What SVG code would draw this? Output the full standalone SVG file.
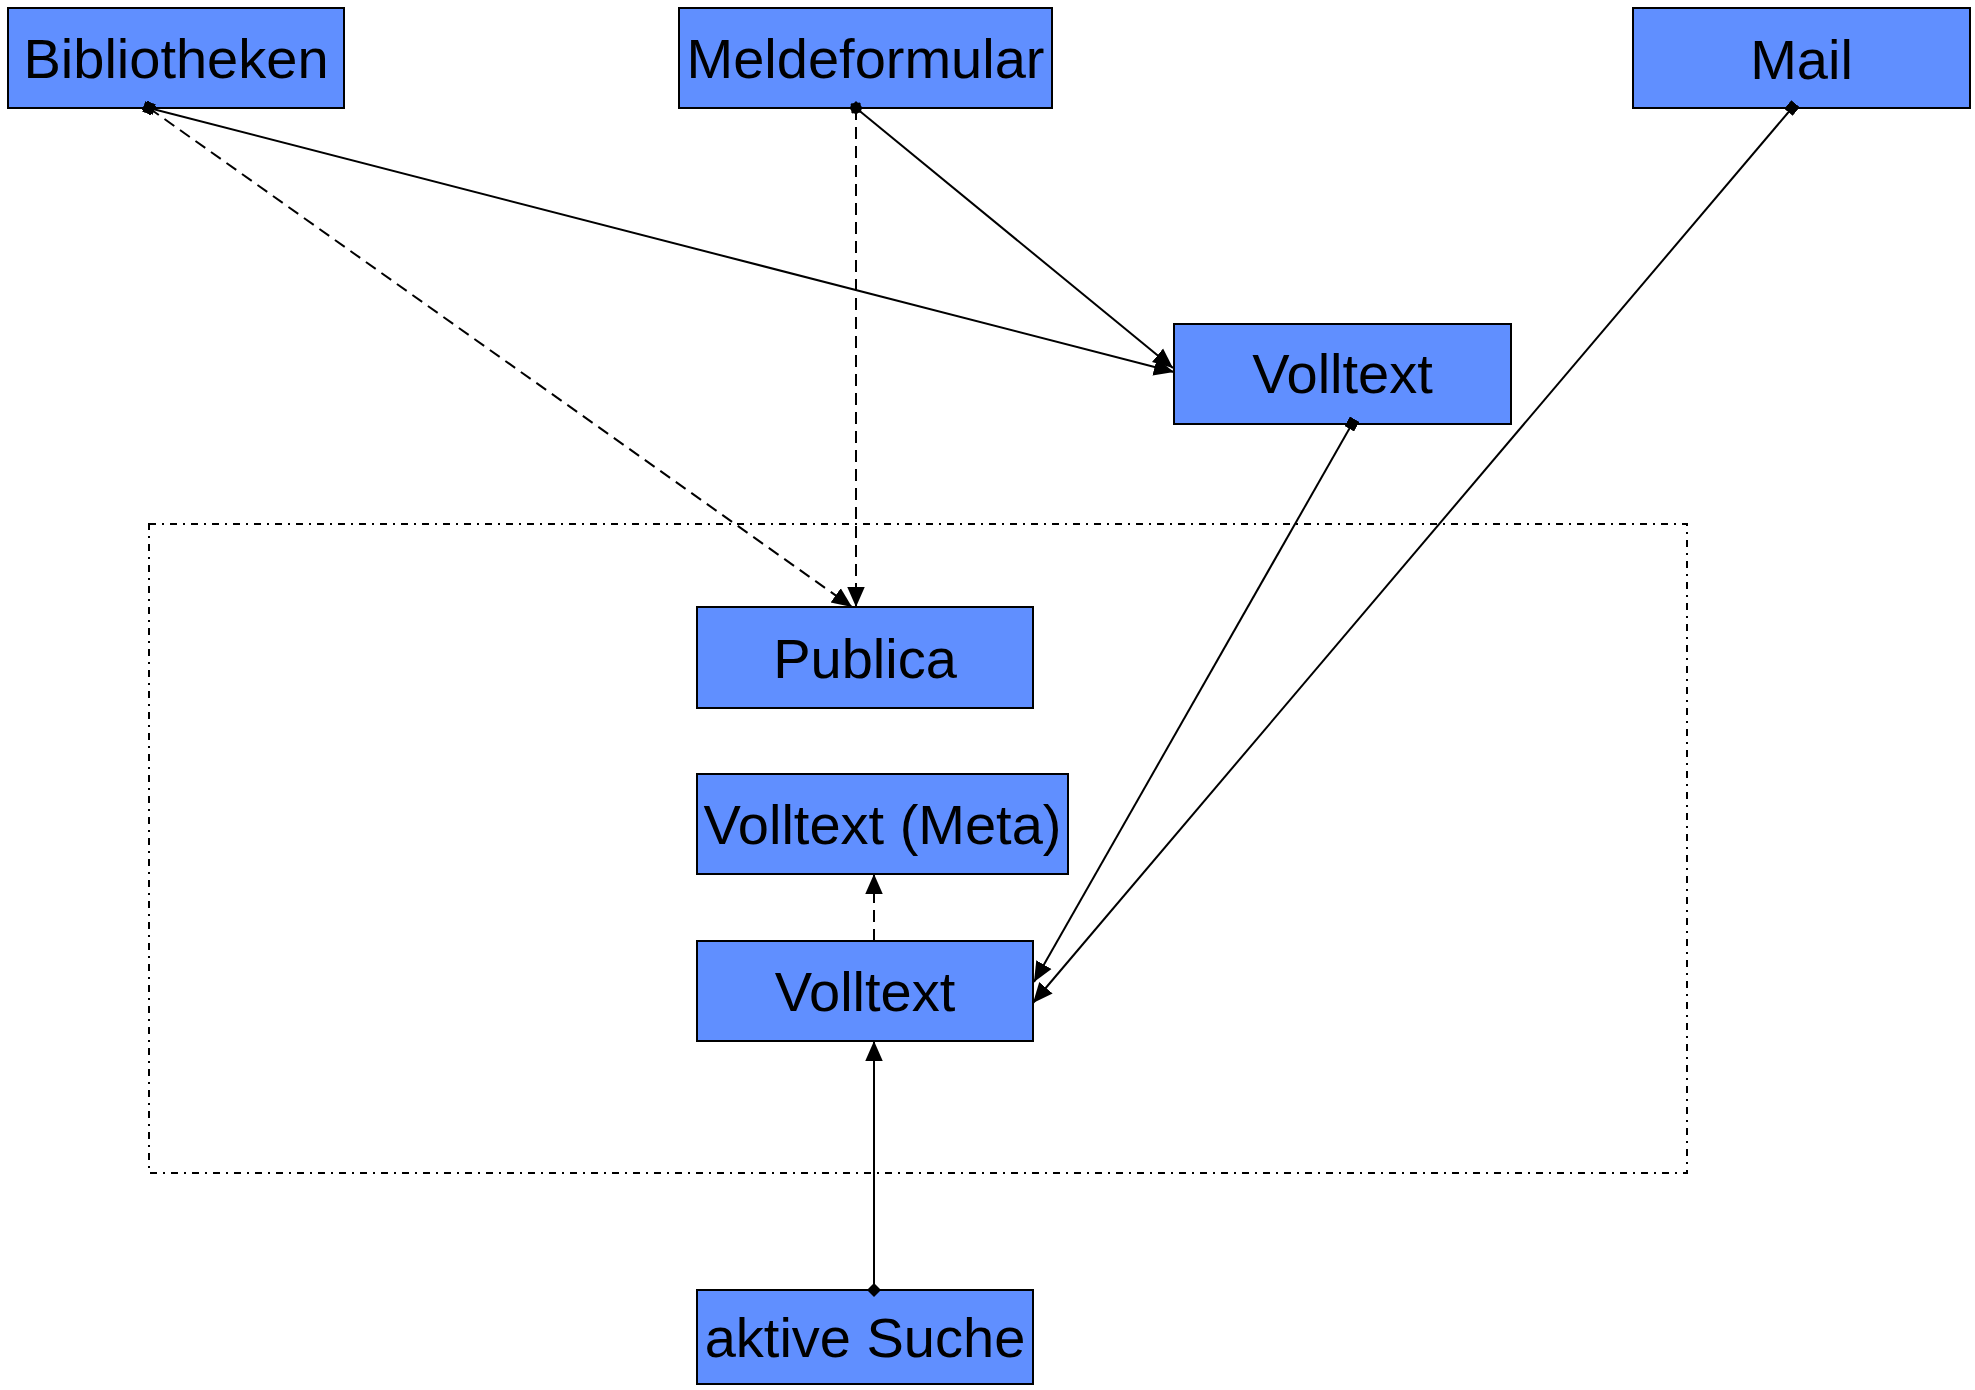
<svg xmlns="http://www.w3.org/2000/svg" width="1975" height="1390" viewBox="0 0 1975 1390">
<style>
.box{fill:#608FFF;stroke:#000;stroke-width:2}
.lbl{font-family:"Liberation Sans",Arial,sans-serif;font-size:56px;fill:#000;text-anchor:middle}
.c{fill:none;stroke:#000;stroke-width:2}
.dash{stroke-dasharray:12 7}
.frame{fill:none;stroke:#000;stroke-width:2;stroke-dasharray:7 6 2 6}
</style>
<defs>
<marker id="arrow" markerUnits="userSpaceOnUse" markerWidth="20" markerHeight="20" viewBox="0 0 16 14" refX="16" refY="7" orient="auto">
<path d="M0,0 L16,7 L0,14 Z" fill="#000"/>
</marker>
<marker id="sq" markerUnits="userSpaceOnUse" markerWidth="11" markerHeight="11" viewBox="0 0 10 10" refX="5" refY="5" orient="auto">
<rect x="0" y="0" width="10" height="10" fill="#000"/>
</marker>
<marker id="dia" markerUnits="userSpaceOnUse" markerWidth="14" markerHeight="14" viewBox="0 0 12 12" refX="6" refY="6" orient="auto">
<path d="M0,6 L6,0 L12,6 L6,12 Z" fill="#000"/>
</marker>
</defs>
<rect class="frame" x="149" y="524" width="1538" height="649"/>
<g id="n-bibliotheken"><rect class="box" x="8" y="8" width="336" height="100"/><text class="lbl" x="176" y="78">Bibliotheken</text></g>
<g id="n-meldeformular"><rect class="box" x="679" y="8" width="373" height="100"/><text class="lbl" x="865.5" y="78">Meldeformular</text></g>
<g id="n-mail"><rect class="box" x="1633" y="8" width="337" height="100"/><text class="lbl" x="1801.5" y="79">Mail</text></g>
<g id="n-volltext-top"><rect class="box" x="1174" y="324" width="337" height="100"/><text class="lbl" x="1342.5" y="393">Volltext</text></g>
<g id="n-publica"><rect class="box" x="697" y="607" width="336" height="101"/><text class="lbl" x="865" y="678">Publica</text></g>
<g id="n-volltext-meta"><rect class="box" x="697" y="774" width="371" height="100"/><text class="lbl" x="882.5" y="844">Volltext (Meta)</text></g>
<g id="n-volltext"><rect class="box" x="697" y="941" width="336" height="100"/><text class="lbl" x="865" y="1011">Volltext</text></g>
<g id="n-aktive-suche"><rect class="box" x="697" y="1290" width="336" height="94"/><text class="lbl" x="865" y="1357">aktive Suche</text></g>
<g id="connectors">
<line class="c" x1="149" y1="108" x2="1174" y2="372" marker-start="url(#sq)" marker-end="url(#arrow)"/>
<line class="c dash" x1="149" y1="108" x2="852" y2="607" marker-start="url(#sq)" marker-end="url(#arrow)"/>
<line class="c dash" x1="856" y1="108" x2="856" y2="607" marker-start="url(#dia)" marker-end="url(#arrow)"/>
<line class="c" x1="856" y1="108" x2="1173" y2="368" marker-start="url(#dia)" marker-end="url(#arrow)"/>
<line class="c" x1="1792" y1="108" x2="1033" y2="1003" marker-start="url(#sq)" marker-end="url(#arrow)"/>
<line class="c" x1="1352" y1="424" x2="1034" y2="982" marker-start="url(#sq)" marker-end="url(#arrow)"/>
<line class="c dash" x1="874" y1="941" x2="874" y2="874" marker-end="url(#arrow)"/>
<line class="c" x1="874" y1="1290" x2="874" y2="1041" marker-start="url(#dia)" marker-end="url(#arrow)"/>
</g>
</svg>
